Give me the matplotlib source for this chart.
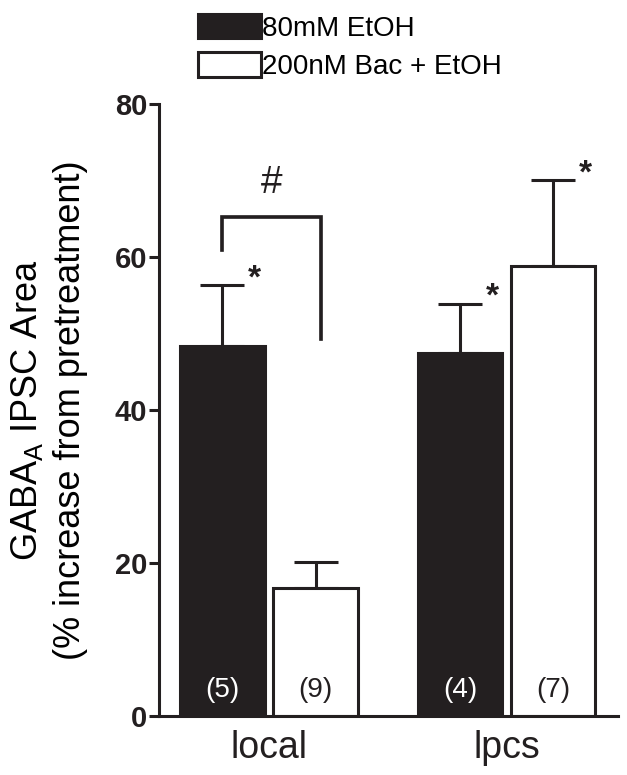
import numpy as np
import matplotlib.pyplot as plt

plt.rcParams['font.family'] = ['Liberation Sans', 'DejaVu Sans']

groups = ['local', 'lpcs']
series = ['80mM EtOH', '200nM Bac + EtOH']
etoh = [48.3, 47.5]
etoh_err = [8.0, 6.4]
bac = [16.8, 58.8]
bac_err = [3.4, 11.2]
n_etoh = ['(5)', '(4)']
n_bac = ['(9)', '(7)']

ink = '#231f20'
lw = 2.2

fig = plt.figure(figsize=(6.27, 7.75), dpi=100)
ax = fig.add_axes([0.2536, 0.076, 0.732, 0.79])

x = np.arange(len(groups))
w = 0.356
off = 0.196

b1 = ax.bar(x - off, etoh, w, color=ink, edgecolor=ink, linewidth=lw, label=series[0], zorder=2)
b2 = ax.bar(x + off, bac, w, color='white', edgecolor=ink, linewidth=lw, label=series[1], zorder=2)

for xs, vals, errs in [(x - off, etoh, etoh_err), (x + off, bac, bac_err)]:
    ax.errorbar(xs, vals, yerr=[np.zeros(len(vals)), errs], fmt='none',
                ecolor=ink, elinewidth=lw, capsize=16, capthick=lw, zorder=1)

# n labels inside bars
for i in range(len(groups)):
    ax.text(x[i] - off, 3.4, n_etoh[i], color='white', ha='center', va='center', fontsize=20)
    ax.text(x[i] + off, 3.4, n_bac[i], color=ink, ha='center', va='center', fontsize=20)

# significance stars
stars = [(x[0] - off, etoh[0] + etoh_err[0]),
         (x[1] - off, etoh[1] + etoh_err[1]),
         (x[1] + off, bac[1] + bac_err[1])]
for sx, sy in stars:
    ax.text(sx + 0.135, sy - 1.2, '*', ha='center', va='bottom', fontsize=24, fontweight='bold', color=ink)

# bracket between local bars
bx0, bx1 = x[0] - off, x[0] + off + 0.025
ax.plot([bx0, bx0, bx1, bx1], [60.9, 65.2, 65.2, 49.3], color=ink, lw=lw * 1.2,
        solid_joinstyle='miter', clip_on=False)
ax.text((bx0 + bx1) / 2, 67.3, '#', ha='center', va='bottom', fontsize=28, color=ink)

ax.set_xlim(-0.463, 1.469)
ax.set_ylim(0, 80)
ax.set_yticks([0, 20, 40, 60, 80])
ax.set_xticks(x)
ax.set_xticklabels(groups, fontsize=27)
for lab in ax.get_yticklabels():
    lab.set_fontweight('bold')
    lab.set_fontsize(21)

ax.spines['right'].set_visible(False)
ax.spines['top'].set_visible(False)
ax.spines['left'].set_linewidth(lw)
ax.spines['bottom'].set_linewidth(lw)
ax.spines['left'].set_color(ink)
ax.spines['bottom'].set_color(ink)
ax.tick_params(axis='y', length=7.5, width=lw, colors=ink, pad=1)
ax.tick_params(axis='x', length=0, pad=10, colors=ink)

ax.set_ylabel('GABA$_\\mathregular{A}$ IPSC Area\n(% increase from pretreatment)',
              fontsize=26, linespacing=1.3)
ax.yaxis.set_label_coords(-0.155, 0.5)

fig.legend(handles=[b1, b2], labels=series, loc='upper left', bbox_to_anchor=(0.29, 1.004),
           frameon=False, fontsize=20, handlelength=2.25, handleheight=1.0,
           labelspacing=0.38, handletextpad=0.05, borderaxespad=0.2)

fig.savefig('out.png', dpi=100)
